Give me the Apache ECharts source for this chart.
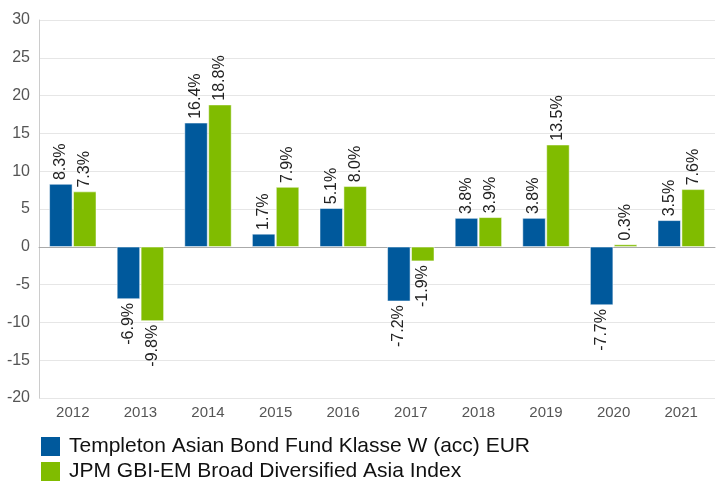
<!DOCTYPE html>
<html>
<head>
<meta charset="utf-8">
<script src="https://cdn.jsdelivr.net/npm/echarts@6/dist/echarts.min.js"></script>
<style>
  html, body { margin: 0; padding: 0; background: #fff; }
  #myChart { width: 716px; height: 484px; }
</style>
</head>
<body>
<div id="myChart"></div>
<script>
const years = ["2012", "2013", "2014", "2015", "2016", "2017", "2018", "2019", "2020", "2021"];
const fundName = "Templeton Asian Bond Fund Klasse W (acc) EUR";
const indexName = "JPM GBI-EM Broad Diversified Asia Index";
const fundValues = [8.3, -6.9, 16.4, 1.7, 5.1, -7.2, 3.8, 3.8, -7.7, 3.5];
const indexValues = [7.3, -9.8, 18.8, 7.9, 8.0, -1.9, 3.9, 13.5, 0.3, 7.6];

// positive labels above the bar, negative ones below, both rotated
function withLabels(values) {
  return values.map(function (v) {
    const up = v >= 0;
    return {
      value: v,
      label: {
        position: up ? "top" : "bottom",
        align: up ? "left" : "right",
      },
    };
  });
}

const font = "Liberation Sans, Arial, sans-serif";
const barLabel = {
  show: true,
  rotate: 90,
  verticalAlign: "middle",
  distance: 4,
  fontSize: 16,
  color: "#222",
  formatter: function (p) { return p.value.toFixed(1) + "%"; },
};

// one legend per row, stacked under the axis
function legendRow(name, top) {
  return {
    left: 39,
    top: top,
    padding: 0,
    itemWidth: 21,
    itemHeight: 21,
    icon: "rect",
    textStyle: { fontSize: 21, color: "#111", fontFamily: font, padding: [0, 0, 0, 3] },
    data: [name],
  };
}

let myChart = echarts.init(document.getElementById("myChart"));
myChart.setOption({
  animation: false,
  textStyle: { fontFamily: font },
  grid: { left: 39, right: 1, top: 20, bottom: 86 },
  legend: [legendRow(fundName, 435), legendRow(indexName, 460)],
  xAxis: {
    type: "category",
    data: years,
    axisLine: { lineStyle: { color: "#aaa" } },
    axisTick: { show: false },
    axisLabel: { color: "#555", fontSize: 15, margin: 7 },
  },
  yAxis: {
    type: "value",
    min: -20,
    max: 30,
    interval: 5,
    axisLine: { show: true, lineStyle: { color: "#ccc" } },
    axisLabel: { color: "#555", fontSize: 16, margin: 9 },
    splitLine: { lineStyle: { color: "#e6e6e6" } },
  },
  series: [
    {
      name: fundName,
      type: "bar",
      barWidth: 23,
      barGap: "4%",
      itemStyle: { color: "#00599c", borderColor: "#fff", borderWidth: 0.5 },
      label: barLabel,
      data: withLabels(fundValues),
    },
    {
      name: indexName,
      type: "bar",
      barWidth: 23,
      itemStyle: { color: "#80bc00", borderColor: "#fff", borderWidth: 0.5 },
      label: barLabel,
      data: withLabels(indexValues),
    },
  ],
});
</script>
</body>
</html>
